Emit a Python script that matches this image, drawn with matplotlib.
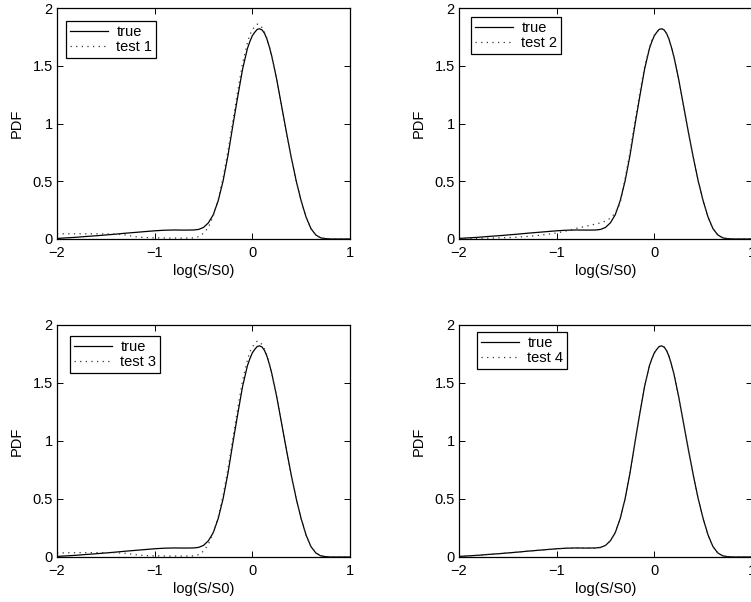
import matplotlib
matplotlib.use("Agg")
import matplotlib.pyplot as plt

plt.rcParams['font.family'] = ['Liberation Sans', 'DejaVu Sans']
plt.rcParams['font.size'] = 10.5

# grid of log(S/S0) where the densities are sampled
x = [-2.0, -1.9, -1.8, -1.7, -1.6, -1.5, -1.4, -1.3, -1.2, -1.1, -1.0,
     -0.9, -0.8, -0.7, -0.6, -0.55, -0.5, -0.45, -0.4, -0.35, -0.3,
     -0.25, -0.2, -0.15, -0.1, -0.05, -0.025, 0.0, 0.025, 0.05, 0.075,
     0.1, 0.125, 0.15, 0.175, 0.2, 0.25, 0.3, 0.35, 0.4, 0.45, 0.5, 0.55, 0.6,
     0.65, 0.7, 0.75, 0.8, 0.9, 1.0]

pdf_true = [0.005, 0.010, 0.015, 0.022, 0.028, 0.035, 0.042, 0.050, 0.057, 0.064, 0.071,
            0.076, 0.078, 0.077, 0.078, 0.083, 0.100, 0.140, 0.210, 0.330, 0.500,
            0.720, 0.980, 1.230, 1.470, 1.650, 1.710, 1.760, 1.790, 1.815, 1.820,
            1.810, 1.780, 1.730, 1.660, 1.580, 1.380, 1.150, 0.920, 0.700, 0.500, 0.330, 0.190, 0.090,
            0.035, 0.010, 0.003, 0.000, 0.000, 0.000]

pdf_test1 = [0.045, 0.045, 0.045, 0.045, 0.045, 0.044, 0.043, 0.035, 0.020, 0.012, 0.010,
             0.009, 0.008, 0.008, 0.010, 0.020, 0.050, 0.100, 0.200, 0.340, 0.530,
             0.760, 1.020, 1.280, 1.520, 1.700, 1.770, 1.810, 1.840, 1.860, 1.855,
             1.830, 1.790, 1.740, 1.665, 1.580, 1.380, 1.150, 0.920, 0.700, 0.500, 0.330, 0.190, 0.090,
             0.035, 0.010, 0.003, 0.000, 0.000, 0.000]

pdf_test2 = [0.004, 0.005, 0.006, 0.008, 0.010, 0.012, 0.016, 0.022, 0.030, 0.040, 0.052,
             0.070, 0.092, 0.110, 0.130, 0.140, 0.155, 0.180, 0.225, 0.310, 0.520,
             0.750, 1.010, 1.260, 1.490, 1.660, 1.720, 1.765, 1.795, 1.815, 1.820,
             1.810, 1.780, 1.730, 1.660, 1.580, 1.380, 1.150, 0.920, 0.700, 0.500, 0.330, 0.190, 0.090,
             0.035, 0.010, 0.003, 0.000, 0.000, 0.000]

pdf_test3 = [0.035, 0.036, 0.037, 0.038, 0.038, 0.038, 0.037, 0.032, 0.020, 0.012, 0.010,
             0.009, 0.008, 0.008, 0.010, 0.020, 0.050, 0.110, 0.210, 0.340, 0.530,
             0.760, 1.020, 1.280, 1.520, 1.700, 1.770, 1.810, 1.840, 1.860, 1.855,
             1.830, 1.790, 1.740, 1.665, 1.580, 1.380, 1.150, 0.920, 0.700, 0.500, 0.330, 0.190, 0.090,
             0.035, 0.010, 0.003, 0.000, 0.000, 0.000]

pdf_test4 = [0.005, 0.010, 0.015, 0.022, 0.028, 0.035, 0.042, 0.050, 0.057, 0.064, 0.071,
             0.075, 0.077, 0.075, 0.075, 0.081, 0.100, 0.140, 0.210, 0.330, 0.500,
             0.720, 0.980, 1.230, 1.470, 1.650, 1.710, 1.760, 1.790, 1.815, 1.820,
             1.810, 1.780, 1.730, 1.660, 1.580, 1.380, 1.150, 0.920, 0.700, 0.500, 0.330, 0.190, 0.090,
             0.035, 0.010, 0.003, 0.000, 0.000, 0.000]

tests = [pdf_test1, pdf_test2, pdf_test3, pdf_test4]
test_names = ['test 1', 'test 2', 'test 3', 'test 4']

xticks = [-2, -1, 0, 1]
xticklabels = ['\u22122', '\u22121', '0', '1']
yticks = [0, 0.5, 1, 1.5, 2]
yticklabels = ['0', '0.5', '1', '1.5', '2']

W, H = 751, 602
fig = plt.figure(figsize=(W / 100, H / 100), dpi=100)

# axes boxes in pixels: left, top, width, height
boxes = [(57, 8, 293, 231), (459, 8, 293, 231),
         (57, 325, 293, 232), (459, 325, 293, 232)]
# legend offset from the axes top-left corner, in pixels
leg_off = [(9, 13), (12, 9), (13, 11), (18, 7)]

for i, (l, t, w, h) in enumerate(boxes):
    ax = fig.add_axes([l / W, 1 - (t + h) / H, w / W, h / H])
    ax.plot(x, pdf_true, color='black', lw=0.9, label='true')
    ax.plot(x, tests[i], color='#333333', lw=0.9, linestyle=(0, (1, 3.5)),
            label=test_names[i])
    ax.set_xlim(-2, 1)
    ax.set_ylim(0, 2)
    ax.set_xticks(xticks)
    ax.set_xticklabels(xticklabels)
    ax.set_yticks(yticks)
    ax.set_yticklabels(yticklabels)
    ax.tick_params(direction='in', length=4, width=0.7, top=True, right=True,
                   labelsize=10.5)
    ax.tick_params(axis='x', pad=5)
    ax.tick_params(axis='y', pad=3)
    for sp in ax.spines.values():
        sp.set_linewidth(0.9)
    ax.set_xlabel('log(S/S0)', labelpad=3)
    ax.set_ylabel('PDF', labelpad=6)
    dx, dy = leg_off[i]
    leg = ax.legend(loc='upper left', bbox_to_anchor=(dx / w, 1 - dy / h),
                    borderaxespad=0, fancybox=False, framealpha=1,
                    edgecolor='black', handlelength=2.6, handletextpad=0.6,
                    borderpad=0.25, labelspacing=0.1, fontsize=10.5)
    leg.get_frame().set_linewidth(0.9)

fig.savefig('out.png', dpi=100)
